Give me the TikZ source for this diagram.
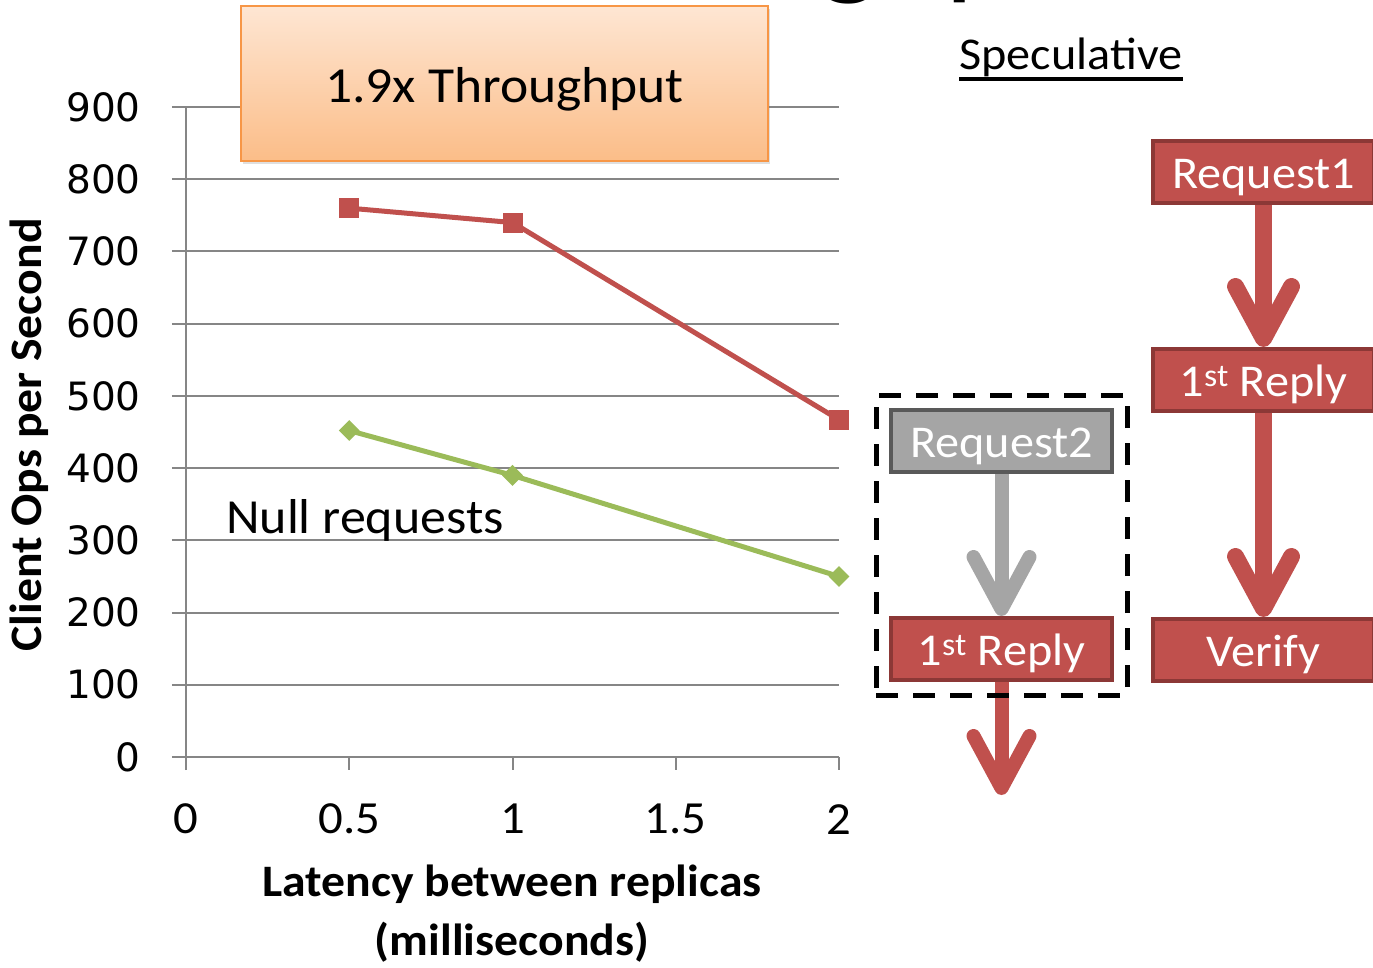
\documentclass[tikz,border=0pt]{standalone}
\usepackage{fontspec}
\setmainfont{Carlito}[FakeStretch=1.06]
\newfontfamily\tickfont{DejaVu Sans}
\usetikzlibrary{arrows.meta,shadows,fit,shapes.geometric}

\definecolor{barred}{HTML}{C0504D}
\definecolor{bardark}{HTML}{8C3836}
\definecolor{greyfill}{HTML}{A5A5A5}
\definecolor{greydark}{HTML}{595959}
\definecolor{nullgreen}{HTML}{9BBB59}
\definecolor{gridgrey}{HTML}{868686}
\definecolor{orangeedge}{HTML}{F79646}
\definecolor{orangetop}{HTML}{FEE6D3}
\definecolor{orangebot}{HTML}{FBBD88}

\newcommand\setfs[1]{\fontsize{#1pt}{#1pt}\selectfont}

\begin{document}
\begin{tikzpicture}[x=1pt,y=-1pt,
  grid/.style={gridgrey, line width=2pt},
  ytick/.style={anchor=east, inner sep=0pt, font=\tickfont\setfs{39}},
  xtick/.style={inner sep=0pt, font=\setfs{46}},
  sqmark/.style={rectangle, fill=barred, minimum size=20pt, inner sep=0pt},
  dmmark/.style={diamond, fill=nullgreen, minimum size=21pt, inner sep=0pt},
  stepbox/.style={rectangle, draw, line width=4pt, minimum width=221pt,
    minimum height=62pt, inner sep=0pt, text=white, font=\setfs{45.5},
    text height=36pt, text depth=4pt},
  redbox/.style={stepbox, fill=barred, draw=bardark},
  greybox/.style={stepbox, fill=greyfill, draw=greydark},
  flow/.style={line width=17pt,
    -{Straight Barb[length=52pt, width=56pt, round]}},
]
\useasboundingbox (0,0) rectangle (1373,967);
\fill[white] (0,0) rectangle (1373,967);
\clip (0,0) rectangle (1373,967);

% slide title, mostly above the visible area
\node[anchor=base west, inner sep=0pt, font=\setfs{120}] (title) at (514,-17) {Throughput};

% ---------------- chart ----------------
\begin{scope}[shift={(186,757)}, x=326.5pt, y=0.7222pt]
  \foreach \v in {100,200,...,900}
    \draw[grid] (-0.0429,\v) -- (2,\v);
  \draw[grid] (-0.0429,0) -- (2,0);
  \draw[grid] (0,-18) -- (0,900);
  \foreach \t in {0.5,1,1.5,2}
    \draw[grid] (\t,0) -- (\t,-18);

  \foreach \v in {0,100,...,900}
    \node[ytick] (yl\v) at (-0.1378,\v) {\v};
  \foreach \t [count=\i] in {0,0.5,1,1.5,2}
    \node[xtick] (xl\i) at (\t,-86) {\t};

  % series
  \coordinate (s1) at (0.5,760);
  \coordinate (s2) at (1,740);
  \coordinate (s3) at (2,467);
  \coordinate (n1) at (0.5,452);
  \coordinate (n2) at (1,390);
  \coordinate (n3) at (2,250);
  \draw[barred, line width=5pt] (s1) -- (s2) -- (s3);
  \draw[nullgreen, line width=5pt] (n1) -- (n2) -- (n3);
  \foreach \p in {s1,s2,s3}
    \node[sqmark] (m-\p) at (\p) {};
  \foreach \p in {n1,n2,n3}
    \node[dmmark] (m-\p) at (\p) {};
\end{scope}

% axis titles
\node[rotate=90, inner sep=0pt, font=\bfseries\setfs{45}] (ylab) at (29,435) {Client Ops per Second};
\node[anchor=base, inner sep=0pt, font=\bfseries\setfs{45}] (xlab) at (512,896) {Latency between replicas};
\node[anchor=base, inner sep=0pt, font=\bfseries\setfs{45}] (xunit) at (512,955) {(milliseconds)};

% series label
\node[anchor=base west, inner sep=0pt, font=\setfs{49}] (nullreq) at (226,533) {Null requests};

% gain callout
\node[draw=orangeedge, line width=2pt, top color=orangetop, bottom color=orangebot,
  minimum width=527pt, minimum height=155pt, inner sep=0pt,
  text height=38pt, text depth=0pt, font=\setfs{50.5},
  drop shadow={shadow xshift=2pt, shadow yshift=-3pt, opacity=0.25}]
  (gain) at (504.5,83.5) {1.9x Throughput};

% ---------------- speculative execution ----------------
\node[anchor=base, inner sep=0pt, font=\setfs{45.5}] (spec) at (1071,69) {Speculative};
\draw[line width=3.5pt] ([yshift=-10pt]spec.base west) -- ([yshift=-10pt]spec.base east);

\node[redbox] (q1) at (1263.5,172) {Request1};
\node[redbox] (p1) at (1263.5,380) {1\textsuperscript{st} Reply};
\node[redbox] (v1) at (1263.5,650) {Verify};

\node[greybox] (q2) at (1001.5,441) {Request2};
\node[redbox] (p2) at (1001.5,649) {1\textsuperscript{st} Reply};
\coordinate (out) at (1001.5,795);

\draw[flow, barred] (q1) -- (p1);
\draw[flow, barred] (p1) -- (v1);
\draw[flow, greyfill, line width=14pt] (q2) -- (p2);
\draw[flow, barred, line width=14pt] (p2) -- (out);

\node[draw, line width=5pt, dash pattern=on 22pt off 15pt, fit=(q2)(p2), inner sep=13pt] (frame) {};
\end{tikzpicture}
\end{document}
